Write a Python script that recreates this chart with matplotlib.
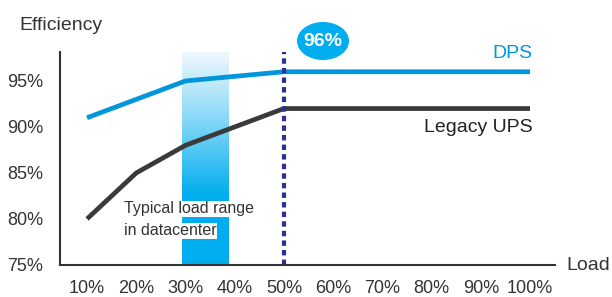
import numpy as np
import matplotlib
matplotlib.use("Agg")
from matplotlib import pyplot as plt
from matplotlib.patches import Ellipse
from matplotlib.colors import to_rgb

plt.rcParams['font.family'] = ['Liberation Sans', 'DejaVu Sans']

load = [10, 20, 30, 40, 50, 60, 70, 80, 90, 100]
dps = [91, 93, 95, 95.5, 96, 96, 96, 96, 96, 96]
legacy = [80, 85, 88, 90, 92, 92, 92, 92, 92, 92]
xtick_labels = ["10%", "20%", "30%", "40%", "50%", "60%", "70%", "80%", "90%", "100%"]
yticks = [75, 80, 85, 90, 95]
ytick_labels = ["75%", "80%", "85%", "90%", "95%"]
band = (29.3, 38.8)   # typical load range
peak_x = 50
peak_label = "96%"

blue = "#0096db"
dark = "#3a3a3a"
navy = "#2e3192"
cyan = "#00aeef"

fig = plt.figure(figsize=(6.12, 2.97), dpi=100)
ax = fig.add_axes([0.098, 0.108, 0.809, 0.717])
ax.set_xlim(4.5, 105.1)
ax.set_ylim(75, 98.15)

# gradient band
ny = 200
ys = np.linspace(98.15, 75, ny)
t = np.clip((98.15 - ys) / (98.15 - 82.6), 0, 1) ** 1.1
top = np.array([0.93, 0.97, 0.995])
bot = np.array(to_rgb(cyan))
img = top[None, :] * (1 - t[:, None]) + bot[None, :] * t[:, None]
img = np.repeat(img[:, None, :], 2, axis=1)
ax.imshow(img, extent=[band[0], band[1], 75, 98.15], aspect='auto', zorder=1)

ax.plot(load, dps, color=blue, lw=3.4, zorder=3, solid_capstyle='butt')
ax.plot(load, legacy, color=dark, lw=3.4, zorder=3, solid_capstyle='butt')
ax.axvline(peak_x, color=navy, lw=3, dashes=(1.3, 1.0), zorder=4)

for s in ['top', 'right']:
    ax.spines[s].set_visible(False)
for s in ['left', 'bottom']:
    ax.spines[s].set_color("#333333")
    ax.spines[s].set_linewidth(1.5)
    ax.spines[s].set_zorder(5)

ax.set_xticks(load)
ax.set_xticklabels(xtick_labels)
ax.set_yticks(yticks)
ax.set_yticklabels(ytick_labels)
ax.tick_params(length=0, labelsize=13, colors="#333333")
ax.tick_params(axis='x', pad=11)
ax.tick_params(axis='y', pad=12)

fig.text(566 / 612, 1 - 265 / 297, "Load", fontsize=14, color="#333333", va='center')
fig.text(19 / 612, 1 - 30 / 297, "Efficiency", fontsize=14, color="#333333")
fig.text(533 / 612, 1 - 53 / 297, "DPS", fontsize=14, color=blue, ha='right', va='center')
fig.text(533 / 612, 1 - 128 / 297, "Legacy UPS", fontsize=14, color="#222222", ha='right', va='center')

ax.text(17.5, 81.1, "Typical load range", fontsize=11.5, color="#333333", va='center', zorder=6,
        bbox=dict(facecolor='white', edgecolor='none', pad=0.5))
ax.text(17.5, 78.7, "in datacenter", fontsize=11.5, color="#333333", va='center', zorder=6,
        bbox=dict(facecolor='white', edgecolor='none', pad=0.5))

ell = Ellipse((323 / 612, 1 - 41 / 297), 52 / 612, 38 / 297, transform=fig.transFigure,
              facecolor=cyan, edgecolor='none')
fig.patches.append(ell)
fig.text(323 / 612, 1 - 41 / 297, peak_label, fontsize=14, fontweight='bold', color='white',
         ha='center', va='center')

fig.savefig("out.png", dpi=100)
